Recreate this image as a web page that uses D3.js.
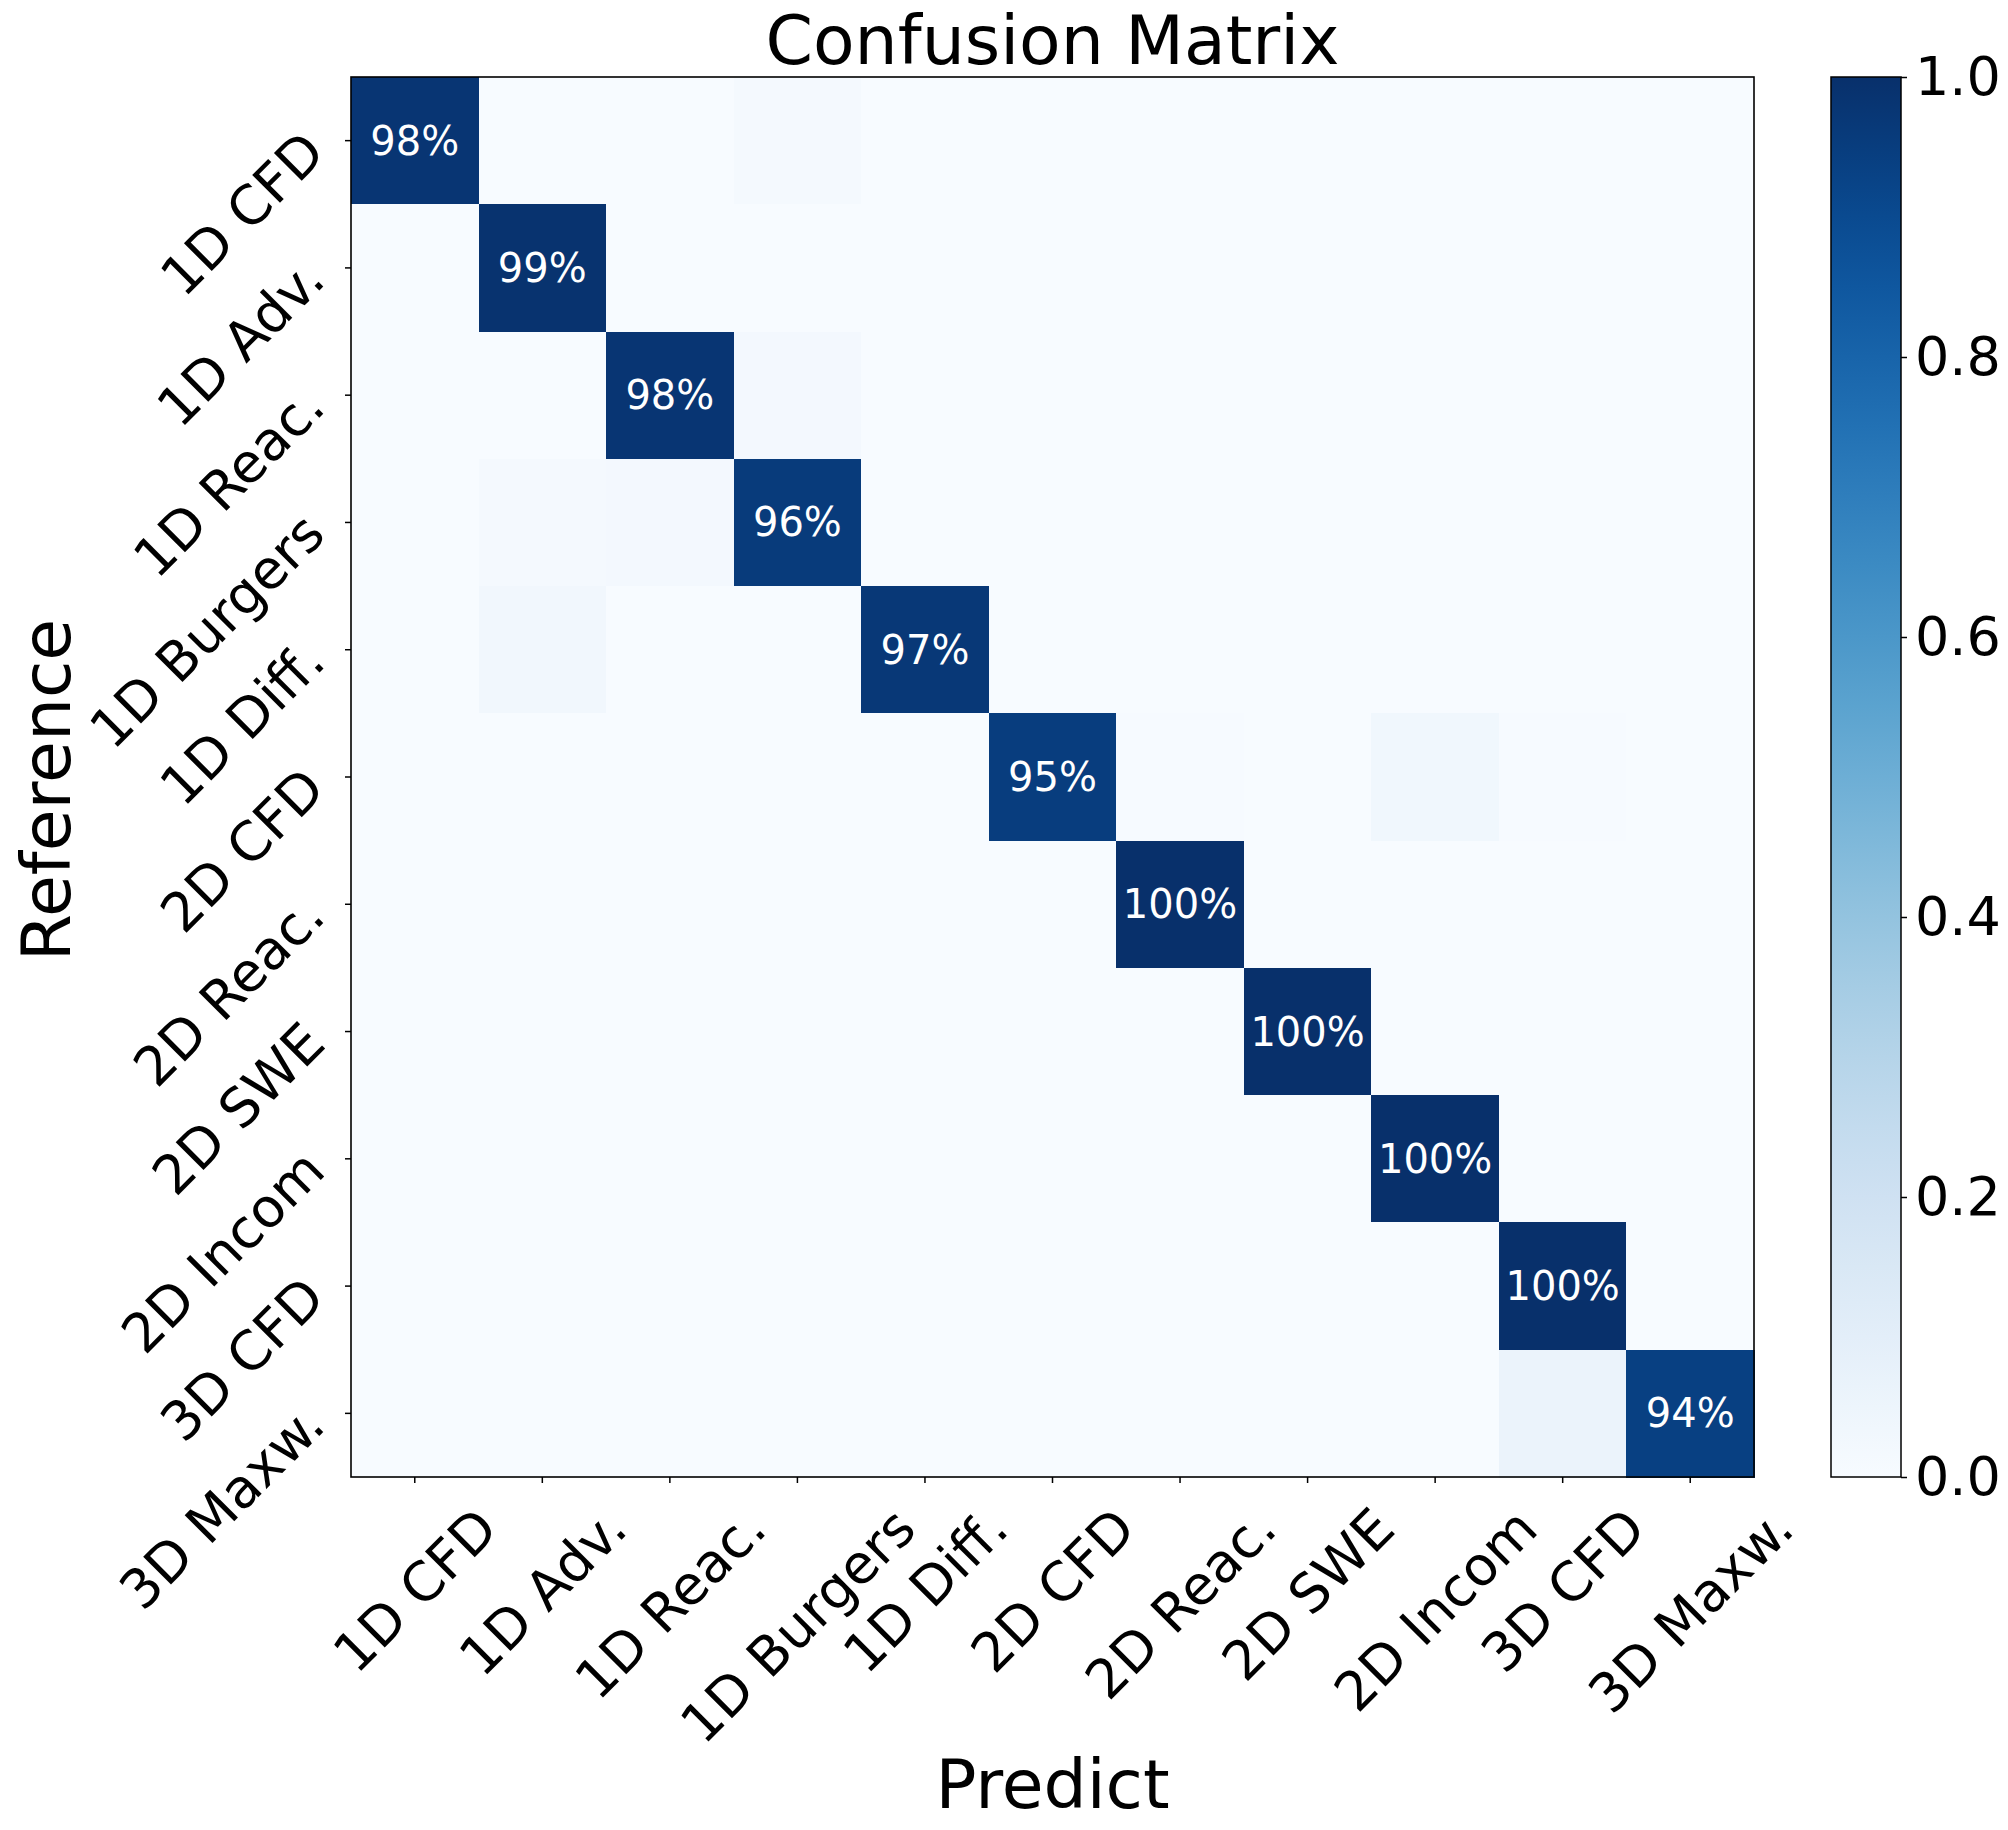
<!DOCTYPE html>
<html>
<head>
<meta charset="utf-8">
<script src="https://cdn.jsdelivr.net/npm/d3@7"></script>
<style>
body { margin: 0; background: #fff; }
text { font-family: "DejaVu Sans", sans-serif; }
</style>
</head>
<body>
<div id="chart"></div>
<script>
var labels = ["1D CFD", "1D Adv.", "1D Reac.", "1D Burgers", "1D Diff.", "2D CFD", "2D Reac.", "2D SWE", "2D Incom", "3D CFD", "3D Maxw."];
var diagValues = [0.98, 0.99, 0.98, 0.96, 0.97, 0.95, 1.00, 1.00, 1.00, 1.00, 0.94];
// [reference row, predicted column, share] for the faint off-diagonal cells
var offDiagonal = [[0, 3, 0.015], [2, 3, 0.02], [3, 1, 0.015], [3, 2, 0.02], [4, 1, 0.03],
	[5, 6, 0.005], [5, 8, 0.035], [5, 9, 0.005], [10, 9, 0.06]];
var colorbarTicks = [0, 0.2, 0.4, 0.6, 0.8, 1.0];

var width = 2008, height = 1830;
var plot = {left: 351, right: 1754, top: 77, bottom: 1477};
var cbar = {left: 1831, width: 70};
var tickFont = 54;

// build the matrix cells
var cells = [];
labels.forEach(function (r, i) {
	labels.forEach(function (c, j) {
		cells.push({ref: r, pred: c, value: i === j ? diagValues[i] : 0});
	});
});
offDiagonal.forEach(function (d) {
	cells[d[0] * labels.length + d[1]].value = d[2];
});

var x = d3.scaleBand().domain(labels).range([plot.left, plot.right]);
var y = d3.scaleBand().domain(labels).range([plot.top, plot.bottom]);
var color = d3.scaleSequential(d3.interpolateBlues).domain([0, 1]);
var cy = d3.scaleLinear().domain([0, 1]).range([plot.bottom, plot.top]);

var svg = d3.select("#chart").append("svg")
	.attr("width", width)
	.attr("height", height);
svg.append("rect").attr("width", width).attr("height", height).style("fill", "#fff");

// heatmap
svg.append("g").selectAll("rect")
	.data(cells)
	.enter()
	.append("rect")
	.attr("x", function (d) { return x(d.pred); })
	.attr("y", function (d) { return y(d.ref); })
	.attr("width", x.bandwidth() + 0.5)
	.attr("height", y.bandwidth() + 0.5)
	.attr("shape-rendering", "crispEdges")
	.style("fill", function (d) { return color(d.value); });

// percentages on the strong cells
svg.append("g").selectAll("text")
	.data(cells.filter(function (d) { return d.value >= 0.5; }))
	.enter()
	.append("text")
	.attr("x", function (d) { return x(d.pred) + x.bandwidth() / 2; })
	.attr("y", function (d) { return y(d.ref) + y.bandwidth() / 2; })
	.attr("dy", "0.35em")
	.attr("text-anchor", "middle")
	.style("font-size", "40px")
	.style("fill", "#fff")
	.text(function (d) { return Math.round(d.value * 100) + "%"; });

// frame
svg.append("rect")
	.attr("x", plot.left).attr("y", plot.top)
	.attr("width", plot.right - plot.left).attr("height", plot.bottom - plot.top)
	.style("fill", "none").style("stroke", "#000").style("stroke-width", 1.6);

// x axis, labels turned 45 degrees and centred under the tick
var xAxis = svg.append("g")
	.attr("transform", "translate(0," + plot.bottom + ")")
	.call(d3.axisBottom(x).tickSize(6).tickSizeOuter(0));
xAxis.select(".domain").remove();
xAxis.selectAll("line").style("stroke-width", 1.5);
xAxis.selectAll("text")
	.attr("font-family", "DejaVu Sans")
	.style("font-size", tickFont + "px")
	.attr("y", 0).attr("x", 0)
	.attr("dy", "0.36em")
	.attr("text-anchor", "middle")
	.each(function () {
		var w = this.getComputedTextLength();
		var half = (w + 0.73 * tickFont) / (2 * Math.SQRT2);
		d3.select(this).attr("transform", "translate(0," + (27 + half) + ") rotate(-45)");
	});

// y axis, labels hang down-left from the tick
var yAxis = svg.append("g")
	.attr("transform", "translate(" + plot.left + ",0)")
	.call(d3.axisLeft(y).tickSize(6).tickSizeOuter(0));
yAxis.select(".domain").remove();
yAxis.selectAll("line").style("stroke-width", 1.5);
yAxis.selectAll("text")
	.attr("font-family", "DejaVu Sans")
	.style("font-size", tickFont + "px")
	.attr("x", 0).attr("y", 0)
	.attr("dy", "0.38em")
	.attr("text-anchor", "end")
	.attr("transform", "translate(-38,0) rotate(-45)");

// colorbar
var grad = svg.append("defs").append("linearGradient")
	.attr("id", "blues")
	.attr("x1", 0).attr("y1", 1).attr("x2", 0).attr("y2", 0);
grad.selectAll("stop")
	.data(d3.range(0, 1.001, 0.05))
	.enter()
	.append("stop")
	.attr("offset", function (d) { return d; })
	.attr("stop-color", function (d) { return color(d); });

svg.append("rect")
	.attr("x", cbar.left).attr("y", plot.top)
	.attr("width", cbar.width).attr("height", plot.bottom - plot.top)
	.style("fill", "url(#blues)")
	.style("stroke", "#000").style("stroke-width", 1.5);

var cAxis = svg.append("g")
	.attr("transform", "translate(" + (cbar.left + cbar.width) + ",0)")
	.call(d3.axisRight(cy).tickValues(colorbarTicks).tickSize(6).tickPadding(8).tickFormat(d3.format(".1f")));
cAxis.select(".domain").remove();
cAxis.selectAll("line").style("stroke-width", 1.5);
cAxis.selectAll("text")
	.attr("font-family", "DejaVu Sans")
	.style("font-size", "54px");

// titles
svg.append("text")
	.attr("x", (plot.left + plot.right) / 2).attr("y", 64)
	.attr("text-anchor", "middle")
	.style("font-size", "68px")
	.text("Confusion Matrix");

svg.append("text")
	.attr("x", (plot.left + plot.right) / 2).attr("y", 1808)
	.attr("text-anchor", "middle")
	.style("font-size", "68px")
	.text("Predict");

svg.append("text")
	.attr("transform", "translate(70," + 790 + ") rotate(-90)")
	.attr("text-anchor", "middle")
	.style("font-size", "68px")
	.text("Reference");
</script>
</body>
</html>
